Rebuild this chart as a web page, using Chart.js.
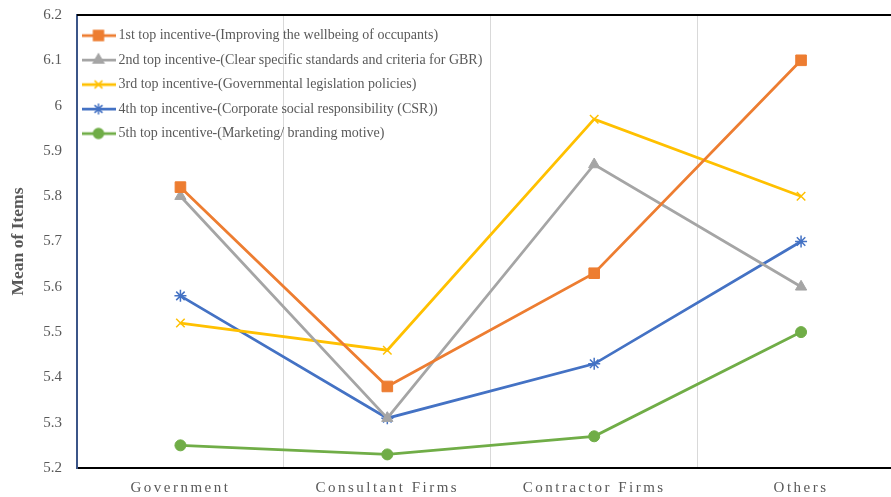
<!DOCTYPE html>
<html>
<head>
<meta charset="utf-8">
<script src="https://cdn.jsdelivr.net/npm/chart.js@4"></script>
<style>
  html, body { margin: 0; padding: 0; background: #fff; overflow: hidden; }
  #wrap { width: 891px; height: 497px; overflow: hidden; }
</style>
</head>
<body>
<div id="wrap"><canvas id="chart" width="913" height="497"></canvas></div>
<script>
const categories = ['Government', 'Consultant Firms', 'Contractor Firms', 'Others'];
const seriesNames = [
  '1st top incentive-(Improving the wellbeing of occupants)',
  '2nd top incentive-(Clear specific standards and criteria for GBR)',
  '3rd top incentive-(Governmental legislation policies)',
  '4th top incentive-(Corporate social responsibility (CSR))',
  '5th top incentive-(Marketing/ branding motive)'
];
const incentive1 = [5.82, 5.38, 5.63, 6.10];
const incentive2 = [5.80, 5.31, 5.87, 5.60];
const incentive3 = [5.52, 5.46, 5.97, 5.80];
const incentive4 = [5.58, 5.31, 5.43, 5.70];
const incentive5 = [5.25, 5.23, 5.27, 5.50];
const yTickValues = [5.2, 5.3, 5.4, 5.5, 5.6, 5.7, 5.8, 5.9, 6.0, 6.1, 6.2];

const colors = ['#ED7D31', '#A5A5A5', '#FFC000', '#4472C4', '#70AD47'];
const markers = ['rect', 'triangle', 'crossRot', 'star', 'circle'];
const radii = [7.5, 6.5, 6, 6, 5.5];
const textColor = '#595959';
const serif = "'Liberation Serif', 'Times New Roman', serif";

// small line + marker pictures for the legend
function legendSwatch(i) {
  const c = document.createElement('canvas');
  c.width = 34; c.height = 16;
  const g = c.getContext('2d');
  g.strokeStyle = colors[i];
  g.lineWidth = 2.75;
  g.beginPath(); g.moveTo(0, 8); g.lineTo(34, 8); g.stroke();
  g.fillStyle = colors[i];
  g.lineWidth = 1.5;
  Chart.helpers.drawPoint(g, { pointStyle: markers[i], radius: radii[i] - 0.5, borderWidth: 1.5, rotation: 0 }, 17, 8);
  return c;
}

const allSeries = [incentive1, incentive2, incentive3, incentive4, incentive5];
const datasets = allSeries.map((values, i) => ({
  label: seriesNames[i],
  data: values,
  borderColor: colors[i],
  backgroundColor: colors[i],
  pointBackgroundColor: colors[i],
  pointBorderColor: colors[i],
  pointBorderWidth: (markers[i] === 'crossRot' || markers[i] === 'star') ? 1.5 : 1,
  pointStyle: markers[i],
  pointRadius: radii[i],
  borderWidth: 2.75,
  tension: 0
}));

// letter spaced category labels, legend inside the plot, top frame line
const framePlugin = {
  id: 'frame',
  afterLayout(chart) {
    const lg = chart.legend;
    const h = lg.height;
    lg.left = chart.chartArea.left - 2;
    lg.top = chart.chartArea.top + 3;
    lg.bottom = lg.top + h;
  },
  beforeDraw(chart) {
    const xs = chart.scales.x;
    if (!xs._spaced) {
      const orig = xs.drawLabels.bind(xs);
      xs.drawLabels = function (area) {
        chart.ctx.save();
        chart.ctx.letterSpacing = '2.5px';
        orig(area);
        chart.ctx.restore();
      };
      xs._spaced = true;
    }
  },
  afterDraw(chart) {
    const { ctx, chartArea } = chart;
    ctx.save();
    ctx.strokeStyle = '#000';
    ctx.lineWidth = 2;
    ctx.beginPath();
    ctx.moveTo(chartArea.left, chartArea.top);
    ctx.lineTo(chartArea.right, chartArea.top);
    ctx.stroke();
    ctx.restore();
  }
};

new Chart(document.getElementById('chart'), {
  type: 'line',
  data: { labels: categories, datasets: datasets },
  plugins: [framePlugin],
  options: {
    responsive: false,
    animation: false,
    layout: { padding: { top: 15, right: 0, bottom: 0, left: 0 } },
    plugins: {
      tooltip: { enabled: false },
      legend: {
        position: 'chartArea',
        align: 'start',
        labels: {
          usePointStyle: true,
          pointStyleWidth: 26,
          padding: 10.5,
          color: textColor,
          font: { family: serif, size: 14 },
          generateLabels(chart) {
            return chart.data.datasets.map((ds, i) => ({
              text: ds.label,
              pointStyle: legendSwatch(i),
              fillStyle: colors[i],
              strokeStyle: colors[i],
              lineWidth: 0,
              fontColor: textColor,
              datasetIndex: i,
              hidden: false
            }));
          }
        }
      }
    },
    scales: {
      x: {
        offset: true,
        grid: { display: true, offset: true, color: '#D9D9D9', lineWidth: 1, drawTicks: false },
        border: { display: true, color: '#000', width: 2 },
        ticks: { color: textColor, font: { family: serif, size: 15 }, padding: 11, maxRotation: 0 },
        afterFit(scale) { scale.height = 29; }
      },
      y: {
        min: 5.2,
        max: 6.2,
        grid: { display: false, drawTicks: false },
        border: { display: true, color: '#3B5588', width: 2 },
        afterBuildTicks(scale) { scale.ticks = yTickValues.map(v => ({ value: v })); },
        ticks: {
          color: textColor,
          font: { family: serif, size: 15 },
          padding: 15,
          callback: v => String(+v.toFixed(1))
        },
        title: {
          display: true,
          text: 'Mean of Items',
          color: textColor,
          font: { family: serif, size: 17.5, weight: 'bold' },
          padding: { top: 8, bottom: 0 }
        },
        afterFit(scale) {
          scale.width = 77;
          scale.paddingTop = 0;
          scale.paddingBottom = 0;
        }
      }
    }
  }
});
</script>
</body>
</html>
